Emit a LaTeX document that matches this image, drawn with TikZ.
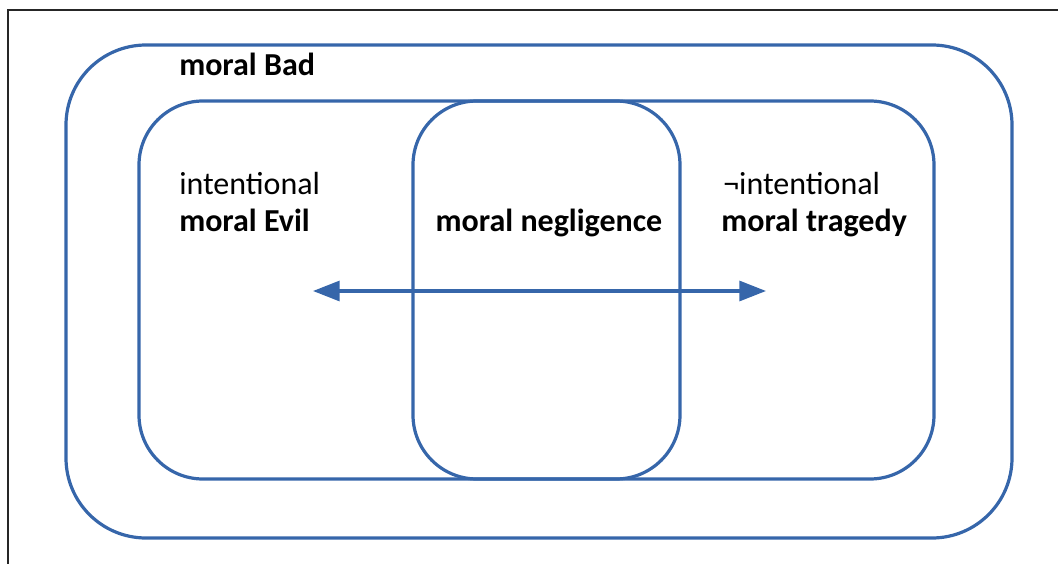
\documentclass[tikz,border=0pt]{standalone}
\usepackage{fontspec}
\setmainfont{Carlito}
\usetikzlibrary{arrows.meta}
\definecolor{setblue}{RGB}{54,102,170}
\tikzset{
  setbox/.style={draw=setblue, line width=2.4pt},
  lbl/.style={anchor=base west, inner sep=0pt, font=\fontsize{24}{28}\selectfont},
  blbl/.style={lbl, font=\fontsize{24}{28}\selectfont\bfseries},
  biarrow/.style={draw=setblue, line width=2.4pt, {Triangle[length=20pt,width=15pt]}-{Triangle[length=20pt,width=15pt]}}
}
\begin{document}
\begin{tikzpicture}[x=0.75pt,y=-0.75pt]
\useasboundingbox (0,0) rectangle (1058,564);
\draw[line width=1pt, black!85] (8,564) -- (8,10) -- (1058,10);
\draw[setbox, rounded corners=60pt] (66,45) rectangle (1012,538);
\draw[setbox, rounded corners=48pt] (139,101) rectangle (934,479);
\draw[setbox, rounded corners=48pt] (413,101) rectangle (680,479);
\node[blbl] (bad) at (179,75) {moral Bad};
\node[lbl] (int) at (179,194) {intentional};
\node[blbl] (evil) at (179,231) {moral Evil};
\node[blbl, anchor=base] (neg) at (549,231) {moral negligence};
\node[lbl] (nint) at (723,194) {¬intentional};
\node[blbl] (trag) at (721,231) {moral tragedy};
\coordinate (L) at (313,291);
\coordinate (R) at (766,291);
\draw[biarrow] (L) -- (R);
\end{tikzpicture}
\end{document}
